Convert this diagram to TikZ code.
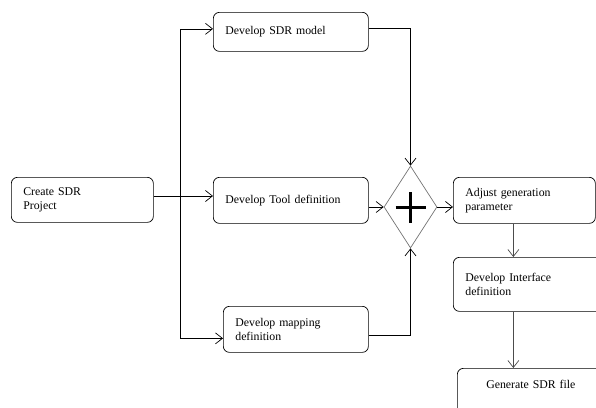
\documentclass[tikz,border=0pt]{standalone}
\usepackage{fontspec}
\setmainfont{Liberation Serif}
\usetikzlibrary{arrows.meta,shapes.geometric}
\tikzset{
  box/.style={draw, rounded corners=6pt, anchor=north west, align=left,
    inner xsep=12pt, line width=0.7pt},
  conn/.style={->, line width=0.7pt},
  >={Straight Barb[length=7pt,width=11pt]}
}
\begin{document}
\begin{tikzpicture}[x=1pt,y=-1pt,font=\fontsize{11.8}{14}\selectfont]
        \useasboundingbox (0,0) rectangle (596,407);
        \clip (0,0) rectangle (596,407);
        \node[box, text width=118pt, minimum height=45pt] (create) at (11,177) {Create SDR\\Project};
        \node[box, text width=131pt, minimum height=39pt] (sdr) at (213,12) {Develop SDR model};
        \node[box, text width=131pt, minimum height=46pt] (tool) at (213,177) {Develop Tool definition};
        \node[box, text width=121pt, minimum height=46pt] (map) at (223,306) {Develop mapping\\definition};
        \node[draw=black!55, diamond, minimum width=53pt, minimum height=82pt, inner sep=0pt, line width=0.7pt] (dia) at (410.5,207) {};
        \draw[line width=3pt] ([xshift=-15pt]dia.center) -- ([xshift=15pt]dia.center);
        \draw[line width=3pt] ([yshift=-15.5pt]dia.center) -- ([yshift=15.5pt]dia.center);
        \node[box, text width=118pt, minimum height=46pt] (adjust) at (453,177) {Adjust generation\\parameter};
        \node[box, text width=136pt, minimum height=54pt] (iface) at (453,257) {Develop Interface\\definition};
        \node[box, align=center, text width=123pt, minimum height=60pt, text height=17pt, text depth=38pt] (gen) at (457,368) {Generate SDR file};
        \coordinate (fork) at (180,196);
        \draw[line width=0.7pt] (create.east |- fork) -- (fork);
        \draw[conn] (fork) -- (tool.west |- fork);
        \draw[conn] (fork) |- ([yshift=3pt]sdr.west);
        \draw[conn] (fork) |- ([yshift=-9pt]map.west);
        \draw[conn] ([yshift=4pt]sdr.east) -| (dia.north);
        \draw[conn] (tool.east |- dia.west) -- (dia.west);
        \draw[conn] ([yshift=-6pt]map.east) -| (dia.south);
        \draw[conn] (dia.east) -- (adjust.west |- dia.east);
        \draw[conn, black!70] ([xshift=-11pt]adjust.south) -- ([xshift=-11pt]adjust.south |- iface.north);
        \draw[conn, black!70] ([xshift=-11pt]adjust.south |- iface.south) -- ([xshift=-11pt]adjust.south |- gen.north);
\end{tikzpicture}
\end{document}
